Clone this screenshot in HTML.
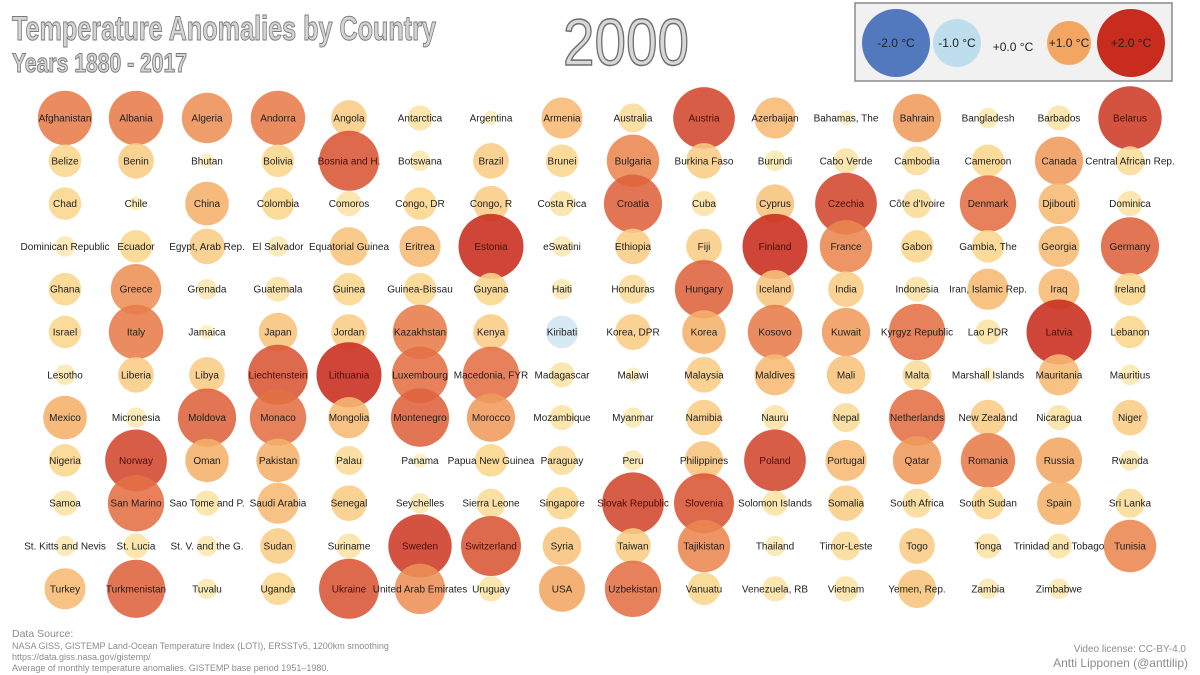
<!DOCTYPE html>
<html><head><meta charset="utf-8"><style>
html,body{margin:0;padding:0;background:#fff;}
svg{display:block;font-family:"Liberation Sans Narrow","Liberation Sans",sans-serif;}
</style></head><body>
<svg id="chart" width="1200" height="675" viewBox="0 0 1200 675" xmlns="http://www.w3.org/2000/svg">
<rect width="1200" height="675" fill="#ffffff"/>
<g>
<text x="12" y="40" font-size="34" font-weight="bold" fill="#d4d4d4" stroke="#7a7a7a" stroke-width="1" textLength="424" lengthAdjust="spacingAndGlyphs">Temperature Anomalies by Country</text>
<text x="12" y="72" font-size="27" font-weight="bold" fill="#d4d4d4" stroke="#7a7a7a" stroke-width="1" textLength="175" lengthAdjust="spacingAndGlyphs">Years 1880 - 2017</text>
<text x="563" y="65" font-size="66" fill="#d8d8d8" stroke="#6e6e6e" stroke-width="1.5" textLength="126" lengthAdjust="spacingAndGlyphs">2000</text>
</g>
<g id="legend">
<rect x="855" y="3" width="317" height="78" fill="#f1f1f1" stroke="#8a8a8a" stroke-width="1.5"/>
</g>
<g id="bubbles"></g>
<g font-family="Liberation Sans, sans-serif" fill="#8c8c8c">
<text x="12" y="637" font-size="10.5">Data Source:</text>
<text x="12" y="649" font-size="9">NASA GISS, GISTEMP Land-Ocean Temperature Index (LOTI), ERSSTv5, 1200km smoothing</text>
<text x="12" y="660" font-size="9">https://data.giss.nasa.gov/gistemp/</text>
<text x="12" y="671" font-size="9">Average of monthly temperature anomalies. GISTEMP base period 1951–1980.</text>
<text x="1186" y="652" font-size="10" text-anchor="end">Video license: CC-BY-4.0</text>
<text x="1188" y="667" font-size="12" text-anchor="end">Antti Lipponen (@anttilip)</text>
</g>
</svg>
<script>
const countries = ["Afghanistan","Albania","Algeria","Andorra","Angola","Antarctica","Argentina","Armenia","Australia","Austria","Azerbaijan","Bahamas, The","Bahrain","Bangladesh","Barbados","Belarus",
"Belize","Benin","Bhutan","Bolivia","Bosnia and H.","Botswana","Brazil","Brunei","Bulgaria","Burkina Faso","Burundi","Cabo Verde","Cambodia","Cameroon","Canada","Central African Rep.",
"Chad","Chile","China","Colombia","Comoros","Congo, DR","Congo, R","Costa Rica","Croatia","Cuba","Cyprus","Czechia","Côte d'Ivoire","Denmark","Djibouti","Dominica",
"Dominican Republic","Ecuador","Egypt, Arab Rep.","El Salvador","Equatorial Guinea","Eritrea","Estonia","eSwatini","Ethiopia","Fiji","Finland","France","Gabon","Gambia, The","Georgia","Germany",
"Ghana","Greece","Grenada","Guatemala","Guinea","Guinea-Bissau","Guyana","Haiti","Honduras","Hungary","Iceland","India","Indonesia","Iran, Islamic Rep.","Iraq","Ireland",
"Israel","Italy","Jamaica","Japan","Jordan","Kazakhstan","Kenya","Kiribati","Korea, DPR","Korea","Kosovo","Kuwait","Kyrgyz Republic","Lao PDR","Latvia","Lebanon",
"Lesotho","Liberia","Libya","Liechtenstein","Lithuania","Luxembourg","Macedonia, FYR","Madagascar","Malawi","Malaysia","Maldives","Mali","Malta","Marshall Islands","Mauritania","Mauritius",
"Mexico","Micronesia","Moldova","Monaco","Mongolia","Montenegro","Morocco","Mozambique","Myanmar","Namibia","Nauru","Nepal","Netherlands","New Zealand","Nicaragua","Niger",
"Nigeria","Norway","Oman","Pakistan","Palau","Panama","Papua New Guinea","Paraguay","Peru","Philippines","Poland","Portugal","Qatar","Romania","Russia","Rwanda",
"Samoa","San Marino","Sao Tome and P.","Saudi Arabia","Senegal","Seychelles","Sierra Leone","Singapore","Slovak Republic","Slovenia","Solomon Islands","Somalia","South Africa","South Sudan","Spain","Sri Lanka",
"St. Kitts and Nevis","St. Lucia","St. V. and the G.","Sudan","Suriname","Sweden","Switzerland","Syria","Taiwan","Tajikistan","Thailand","Timor-Leste","Togo","Tonga","Trinidad and Tobago","Tunisia",
"Turkey","Turkmenistan","Tuvalu","Uganda","Ukraine","United Arab Emirates","Uruguay","USA","Uzbekistan","Vanuatu","Venezuela, RB","Vietnam","Yemen, Rep.","Zambia","Zimbabwe"];
const anomalies = [1.4,1.4,1.2,1.4,0.6,0.3,0.1,0.8,0.4,1.8,0.8,0.1,1.1,0.2,0.3,1.9,
0.5,0.6,0.1,0.5,1.7,0.2,0.6,0.5,1.3,0.6,0.2,0.3,0.4,0.5,1.1,0.4,
0.5,0.1,0.9,0.5,0.3,0.5,0.6,0.3,1.6,0.3,0.7,1.8,0.4,1.5,0.8,0.3,
0.2,0.5,0.6,0.2,0.7,0.8,2.0,0.2,0.6,0.6,2.0,1.3,0.5,0.5,0.8,1.6,
0.5,1.2,0.2,0.3,0.5,0.5,0.5,0.2,0.4,1.6,0.7,0.6,0.3,0.8,0.8,0.5,
0.5,1.4,0.1,0.7,0.6,1.4,0.6,-0.5,0.6,0.9,1.4,1.1,1.5,0.3,2.0,0.5,
0.2,0.6,0.6,1.7,2.0,1.5,1.5,0.3,0.1,0.6,0.8,0.7,0.4,0.1,0.8,0.2,
0.9,0.2,1.6,1.5,0.8,1.6,1.1,0.3,0.2,0.6,0.3,0.4,1.5,0.6,0.3,0.6,
0.5,1.8,0.9,0.9,0.4,0.1,0.5,0.4,0.2,0.7,1.8,0.8,1.1,1.4,1.0,0.2,
0.3,1.5,0.3,0.8,0.6,0.2,0.4,0.5,1.8,1.7,0.3,0.6,0.4,0.5,0.9,0.4,
0.2,0.3,0.2,0.6,0.3,1.9,1.7,0.7,0.6,1.3,0.2,0.4,0.6,0.3,0.3,1.3,
0.8,1.6,0.2,0.5,1.7,1.2,0.3,1.0,1.5,0.5,0.3,0.3,0.7,0.2,0.2];
const legendValues = [-2.0,-1.0,0.0,1.0,2.0];
const legendLabels = ["-2.0 °C","-1.0 °C","+0.0 °C","+1.0 °C","+2.0 °C"];

const NS="http://www.w3.org/2000/svg";
const COLS=16, x0=65, dx=71, y0=118, dy=42.8;
function colX(i){return x0+(i%COLS)*dx;}
function rowY(i){return y0+Math.floor(i/COLS)*dy;}
function rScale(v){return 23*Math.sqrt(Math.abs(v));}
const stops=[[-2,[82,120,190]],[-1,[190,222,238]],[-0.2,[222,236,244]],[0,[253,244,200]],[0.5,[250,214,140]],[1,[243,166,98]],[1.5,[228,112,68]],[2,[200,44,30]]];
function cScale(v){
  v=Math.max(-2,Math.min(2,v));
  for(let k=0;k<stops.length-1;k++){
    const a=stops[k],b=stops[k+1];
    if(v>=a[0]&&v<=b[0]){const t=(v-a[0])/(b[0]-a[0]);
      const c=a[1].map((q,j)=>Math.round(q+(b[1][j]-q)*t));return `rgb(${c[0]},${c[1]},${c[2]})`;}
  }
  return "#fff";
}
function mk(tag,attrs,parent){const e=document.createElementNS(NS,tag);for(const k in attrs)e.setAttribute(k,attrs[k]);parent.appendChild(e);return e;}

const g=document.getElementById('bubbles');
countries.forEach((name,i)=>{
  const c=mk('circle',{cx:colX(i),cy:rowY(i),r:rScale(anomalies[i]),fill:cScale(anomalies[i]),'fill-opacity':0.88},g);
  
  
});
countries.forEach((name,i)=>{
  const t=mk('text',{x:colX(i),y:rowY(i)+3.5,'text-anchor':'middle','font-size':10,fill:(anomalies[i]>1.6?'#4a0d08':'#1e1e1e'),'font-family':'Liberation Sans, sans-serif'},g);
  t.textContent=name;
  
  
});

const lg=document.getElementById('legend');
const lx=[896,957,1013,1069,1131];
legendValues.forEach((v,i)=>{
  if(v!==0){
    const c=mk('circle',{cx:lx[i],cy:43,r:(Math.abs(v)>1.5?34:(v<0?24:22)),fill:cScale(v)},lg);
    
    
  }
  const t=mk('text',{x:lx[i],y:(v===0?51:47),'text-anchor':'middle','font-size':12,fill:'#222','font-family':'Liberation Sans, sans-serif'},lg);
  t.textContent=legendLabels[i];
  
  
});
</script>
</body></html>
